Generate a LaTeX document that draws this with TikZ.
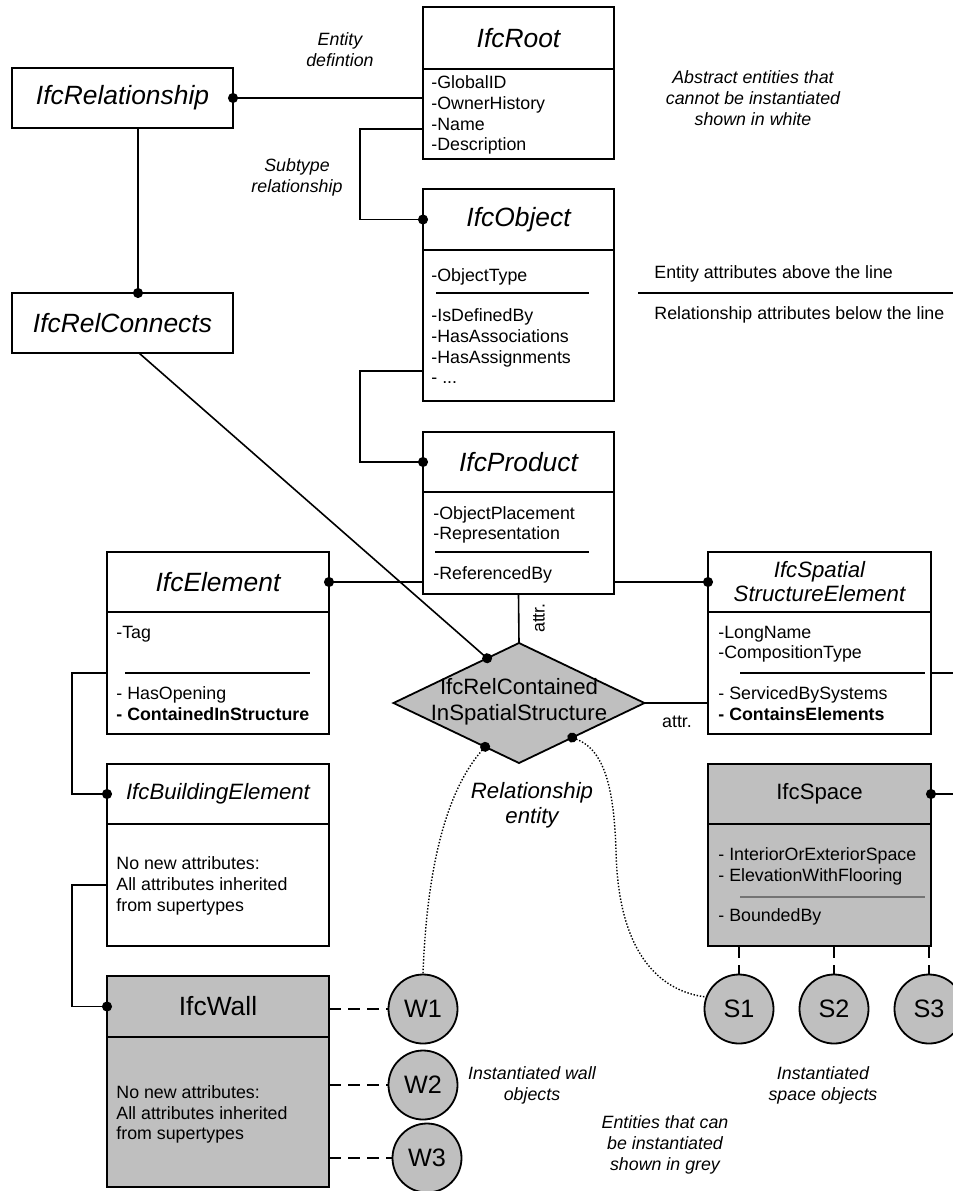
\documentclass[tikz,border=0pt]{standalone}
\usepackage{fontspec}
\setmainfont{Liberation Sans}
\usetikzlibrary{arrows.meta, positioning, shapes.geometric, calc}

\tikzset{
  box/.style={draw, line width=0.9pt, inner sep=0pt, outer sep=0pt},
  hdr/.style={box, minimum height=30pt, font=\fontsize{13.2}{15.8}\selectfont\itshape},
  hdrsmall/.style={hdr, font=\fontsize{11.1}{12}\selectfont\itshape},
  grey/.style={fill=black!25},
  attrs/.style={anchor=north west, inner sep=0pt, align=left, font=\fontsize{8.9}{10.35}\selectfont},
  note/.style={align=center, inner sep=0pt, font=\fontsize{8.9}{10.4}\selectfont\itshape},
  inst/.style={circle, draw, fill=black!25, line width=0.9pt, minimum size=34.5pt, inner sep=0pt, font=\fontsize{12.6}{14}\selectfont},
  link/.style={line width=0.8pt},
  dotend/.style={link, -{Circle[length=5pt]}, shorten >=-2.5pt},
  dotstart/.style={link, {Circle[length=5pt]}-, shorten <=-2.5pt},
  divider/.style={line width=0.6pt},
  inst link/.style={link, dash pattern=on 6pt off 3.5pt},
  inst curve/.style={dotstart, line width=0.7pt, dash pattern=on 0.7pt off 0.9pt},
}

\begin{document}
\begin{tikzpicture}[x=0.5pt, y=-0.5pt] % one unit = one pixel of the sheet

    \useasboundingbox (0,0) rectangle (953,1191);
    \clip (0,0) rectangle (953,1191);

    % Relationship entities on the left
    \node[hdr, minimum width=110.5pt] (rel) at (122.5,98) {IfcRelationship};
    \node[hdr, minimum width=110.5pt] (relc) at (122.5,323) {IfcRelConnects};

    % Abstract supertypes
    \node[hdr, minimum width=95.5pt, minimum height=31pt] (root) at (518.5,38) {IfcRoot};
    \node[box, minimum width=95.5pt, minimum height=45pt, below=0pt of root] (rootb) {};
    \node[attrs] (roota) at (431,75.4) {-GlobalID\\-OwnerHistory\\-Name\\-Description};

    \node[hdr, minimum width=95.5pt, minimum height=30.5pt] (obj) at (518.5,219.5) {IfcObject};
    \node[box, minimum width=95.5pt, minimum height=75.5pt, below=0pt of obj] (objb) {};
    \node[attrs] (obja) at (431,268.4) {-ObjectType};
    \node[attrs] (objr) at (431,308.4) {-IsDefinedBy\\-HasAssociations\\-HasAssignments\\- ...};
    \draw[divider] (436,293) -- (589,293);

    \node[hdr, minimum width=95.5pt] (prod) at (518.5,462) {IfcProduct};
    \node[box, minimum width=95.5pt, minimum height=51pt, below=0pt of prod] (prodb) {};
    \node[attrs, font=\fontsize{8.9}{9.8}\selectfont] (proda) at (433,506.4) {-ObjectPlacement\\-Representation};
    \node[attrs] (prodr) at (433,566.4) {-ReferencedBy};
    \draw[divider] (435,552) -- (589,552);

    \node[hdr, minimum width=111pt] (elem) at (218,582) {IfcElement};
    \node[box, minimum width=111pt, minimum height=61pt, below=0pt of elem] (elemb) {};
    \node[attrs] (elema) at (116,625.4) {-Tag};
    \node[attrs] (elemr) at (116,686.4) {- HasOpening\\\textbf{- ContainedInStructure}};
    \draw[divider] (125,673) -- (310,673);

    \node[hdrsmall, minimum width=111.5pt, align=center] (sse) at (819.5,582) {IfcSpatial\\StructureElement};
    \node[box, minimum width=111.5pt, minimum height=61pt, below=0pt of sse] (sseb) {};
    \node[attrs] (ssea) at (718,625.4) {-LongName\\-CompositionType};
    \node[attrs] (sser) at (718,686.4) {- ServicedBySystems\\\textbf{- ContainsElements}};
    \draw[divider] (740,673) -- (925,673);

    \node[hdrsmall, minimum width=111pt] (bldg) at (218,794) {IfcBuildingElement};
    \node[box, minimum width=111pt, minimum height=61pt, below=0pt of bldg] (bldgb) {};
    \node[attrs, font=\fontsize{8.9}{10.5}\selectfont] (bldga) at (116,856.4) {No new attributes:\\All attributes inherited\\from supertypes};

    % Entities that can be instantiated
    \node[hdr, grey, minimum width=111pt, minimum height=30.5pt, font=\fontsize{13.2}{15.8}\selectfont] (wall) at (218,1006.5) {IfcWall};
    \node[box, grey, minimum width=111pt, minimum height=75pt, below=0pt of wall] (wallb) {};
    \node[attrs, font=\fontsize{8.9}{10.2}\selectfont] (walla) at (116,1085.4) {No new attributes:\\All attributes inherited\\from supertypes};

    \node[hdr, grey, minimum width=111.5pt, font=\fontsize{11.1}{13}\selectfont] (space) at (819.5,794) {IfcSpace};
    \node[box, grey, minimum width=111.5pt, minimum height=61pt, below=0pt of space] (spaceb) {};
    \node[attrs] (spacea) at (718,847.4) {- InteriorOrExteriorSpace\\- ElevationWithFlooring};
    \node[attrs] (spacer) at (718,908.4) {- BoundedBy};
    \draw[divider, black!55] (740,897) -- (925,897);

    % The objectified relationship
    \node[diamond, draw, grey, line width=0.9pt, minimum width=125.5pt, minimum height=60pt, inner sep=0pt, outer sep=0pt] (rc) at (519,703) {};
    \node[align=center, inner sep=0pt, font=\fontsize{11.1}{13}\selectfont] (rct) at (519,702) {IfcRelContained\\InSpatialStructure};
    \coordinate (rcTL) at ($(rc.north)!0.254!(rc.west)$);
    \coordinate (rcBL) at ($(rc.south)!0.27!(rc.west)$);
    \coordinate (rcBR) at ($(rc.south)!0.424!(rc.east)$);

    % Instances
    \node[inst] (w1) at (423,1009) {W1};
    \node[inst] (w2) at (423,1085) {W2};
    \node[inst] (w3) at (427,1158) {W3};
    \node[inst] (s1) at (739,1009) {S1};
    \node[inst] (s2) at (834,1009) {S2};
    \node[inst] (s3) at (929,1009) {S3};

    % Connectors
    \draw[dotstart] (rel.east) -- (rel.east -| rootb.west);
    \draw[dotend] ([xshift=7.75pt]rel.south) -- ([xshift=7.75pt]relc.north);
    \draw[dotend] ([xshift=8.25pt]relc.south) -- (rcTL);
    \draw[dotend] ($(rootb.west)+(0,15)$) -- ++(-63,0) |- (obj.west);
    \draw[dotend] ($(objb.west)+(0,45.5)$) -- ++(-63,0) |- (prod.west);
    \draw[dotstart] (elem.east) -- (elem.east -| prodb.west);
    \draw[dotend] (prodb.east |- sse.west) -- (sse.west);
    \draw[link] (prodb.south) -- (rc.north);
    \draw[link] (rc.east) -- (rc.east -| sseb.west);
    \draw[dotend] (elemb.west) -- ++(-35,0) |- (bldg.west);
    \draw[dotend] (bldgb.west) -- ++(-35,0) |- (wall.west);
    \draw[dotend] (sseb.east) -- ++(45,0) |- (space.east);

    \foreach \w in {w1,w2,w3}
        \draw[inst link] (\w.west -| wallb.east) -- (\w.west);
    \foreach \s in {s1,s2,s3}
        \draw[inst link] (\s.north |- spaceb.south) -- (\s.north);

    \draw[inst curve] (rcBL) .. controls (447,790) and (427,865) .. (w1.north);
    \draw[inst curve] (rcBR) .. controls (605,750) and (614,790) .. (616,850)
        .. controls (618,960) and (665,992) .. (s1.160);

    % Labels on the connectors
    \node[attrs, anchor=center, rotate=90] (attrA) at (539,618) {attr.};
    \node[attrs, anchor=center] (attrB) at (677,722) {attr.};

    % Notes
    \node[note] (ndef) at (340,50) {Entity\\defintion};
    \node[note] (nsub) at (297,177) {Subtype\\relationship};
    \node[note] (nabs) at (753,98) {Abstract entities that\\cannot be instantiated\\shown in white};
    \node[note, font=\fontsize{11.1}{12.5}\selectfont\itshape] (nrel) at (532,805) {Relationship\\entity};
    \node[note] (nwall) at (532,1085) {Instantiated wall\\objects};
    \node[note] (nspace) at (823,1085) {Instantiated\\space objects};
    \node[note] (ngrey) at (665,1145) {Entities that can\\be instantiated\\shown in grey};

    % Legend for the attribute line
    \node[attrs, anchor=west] (legA) at (654,274) {Entity attributes above the line};
    \draw[link] (638,293) -- (953,293);
    \node[attrs, anchor=west] (legR) at (654,315) {Relationship attributes below the line};

\end{tikzpicture}
\end{document}
